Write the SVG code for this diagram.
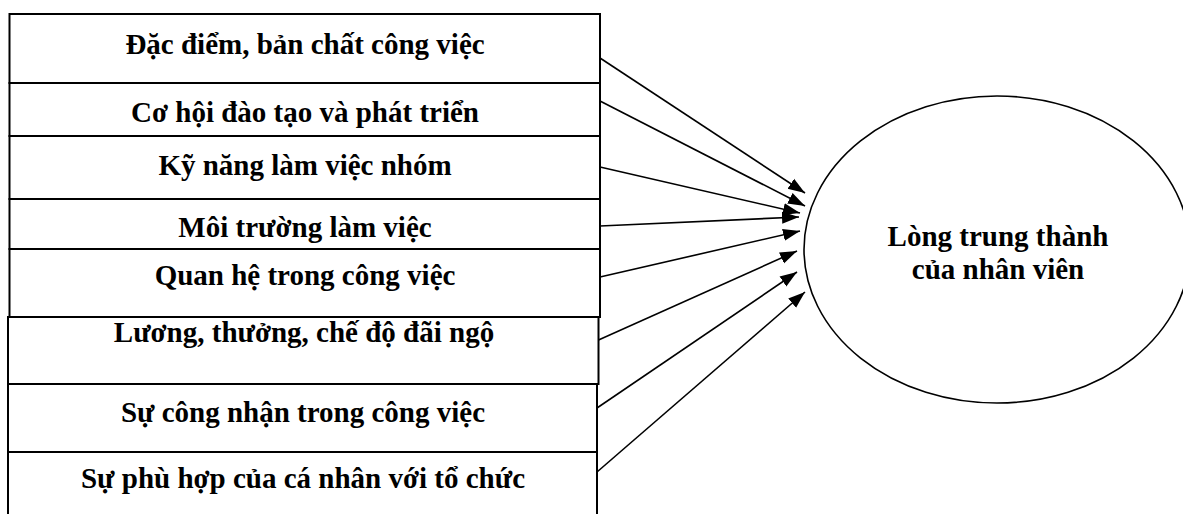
<svg xmlns="http://www.w3.org/2000/svg" width="1183" height="514" viewBox="0 0 1183 514">
  <style>
    .box { fill: #ffffff; stroke: #000000; stroke-width: 2; }
    .label { font-family: "Liberation Serif", "Times New Roman", serif; font-weight: bold; font-size: 29px; fill: #000000; text-anchor: middle; }
    .link { fill: none; stroke: #000000; stroke-width: 1.6; marker-end: url(#head); }
    .goal { fill: #ffffff; stroke: #000000; stroke-width: 1.6; }
  </style>
  <defs>
    <marker id="head" markerUnits="userSpaceOnUse" markerWidth="18" markerHeight="14" viewBox="0 0 18 14" refX="17" refY="7" orient="auto">
      <path d="M0,1 L17,7 L0,13 Z" fill="#000000"/>
    </marker>
  </defs>
  <rect width="1183" height="514" fill="#ffffff"/>

  <!-- factor boxes, stacked on the left -->
  <g id="factor-1">
    <rect class="box" x="9.5" y="14" width="590.5" height="69"/>
    <text class="label" x="305" y="53.5">Đặc điểm, bản chất công việc</text>
  </g>
  <g id="factor-2">
    <rect class="box" x="9.5" y="83" width="590.5" height="53"/>
    <text class="label" x="305" y="122">Cơ hội đào tạo và phát triển</text>
  </g>
  <g id="factor-3">
    <rect class="box" x="9.5" y="136" width="590.5" height="63"/>
    <text class="label" x="305" y="175">Kỹ năng làm việc nhóm</text>
  </g>
  <g id="factor-4">
    <rect class="box" x="9.5" y="199" width="590.5" height="50"/>
    <text class="label" x="305" y="237">Môi trường làm việc</text>
  </g>
  <g id="factor-5">
    <rect class="box" x="9.5" y="249" width="590.5" height="68"/>
    <text class="label" x="305" y="285">Quan hệ trong công việc</text>
  </g>
  <g id="factor-6">
    <rect class="box" x="8" y="317" width="590.5" height="67"/>
    <text class="label" x="304" y="342">Lương, thưởng, chế độ đãi ngộ</text>
  </g>
  <g id="factor-7">
    <rect class="box" x="8" y="384" width="589" height="68"/>
    <text class="label" x="303" y="421.5">Sự công nhận trong công việc</text>
  </g>
  <g id="factor-8">
    <rect class="box" x="8" y="452" width="589" height="80"/>
    <text class="label" x="303" y="488">Sự phù hợp của cá nhân với tổ chức</text>
  </g>

  <!-- outcome ellipse -->
  <g id="loyalty">
    <ellipse class="goal" cx="997" cy="249.5" rx="193" ry="153.5"/>
    <text class="label" x="998" y="246">Lòng trung thành</text>
    <text class="label" x="998" y="279">của nhân viên</text>
  </g>

  <!-- arrows from each factor to the outcome -->
  <g id="connectors">
    <path class="link" d="M600,58 L805,193"/>
    <path class="link" d="M600,101 L805,206"/>
    <path class="link" d="M600,167 L800,213"/>
    <path class="link" d="M600,226 L799,217"/>
    <path class="link" d="M600,277 L800,231"/>
    <path class="link" d="M598.5,340 L797,251"/>
    <path class="link" d="M597,408 L797,272"/>
    <path class="link" d="M597,472 L805,292"/>
  </g>
</svg>
